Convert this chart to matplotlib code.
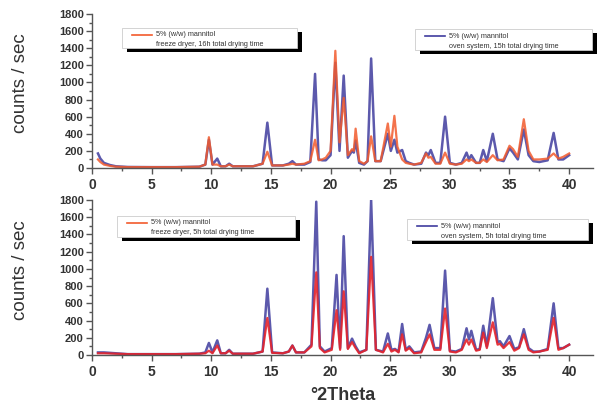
import matplotlib
matplotlib.use("Agg")
import matplotlib.pyplot as plt
from matplotlib.patches import Rectangle
from matplotlib.lines import Line2D

# ---- data (2theta, counts/sec) ----
theta_top = [0.5, 0.7, 1.0, 1.5, 2.0, 3.0, 5.0, 7.0, 9.0, 9.5, 9.8, 10.1, 10.5, 10.8, 11.2,
             11.5, 11.8, 13.5, 14.3, 14.7, 15.1, 16.0, 16.5, 16.8, 17.1, 17.8, 18.3, 18.7,
             19.0, 19.3, 19.6, 20.0, 20.4, 20.75, 21.1, 21.45, 21.8, 21.95, 22.1, 22.4,
             22.8, 23.1, 23.4, 23.75, 24.2, 24.8, 25.05, 25.35, 25.6, 26.0, 26.3, 26.6,
             27.0, 27.6, 28.0, 28.2, 28.4, 28.8, 29.2, 29.6, 30.0, 30.5, 31.0, 31.4, 31.6,
             31.8, 32.2, 32.5, 32.8, 33.1, 33.6, 34.0, 34.5, 35.0, 35.3, 35.7, 36.2, 36.6,
             37.0, 37.5, 38.2, 38.7, 39.1, 39.5, 40.0]
freeze_16h = [100, 70, 40, 25, 15, 10, 10, 10, 15, 40, 360, 40, 40, 20, 20,
              40, 20, 20, 50, 190, 30, 30, 40, 50, 40, 50, 80, 330,
              90, 100, 120, 200, 1370, 300, 820, 150, 220, 200, 460, 80,
              50, 80, 370, 80, 80, 520, 250, 610, 250, 100, 60, 50,
              40, 60, 170, 120, 130, 50, 50, 180, 50, 40, 50, 100, 80,
              100, 60, 60, 100, 70, 150, 90, 100, 260, 220, 130, 570, 200,
              100, 100, 110, 170, 110, 130, 170]
oven_15h = [170, 110, 60, 35, 20, 12, 10, 10, 15, 40, 330, 40, 110, 20, 20,
            50, 20, 20, 50, 530, 30, 30, 50, 80, 40, 40, 70, 1100,
            100, 90, 90, 150, 1230, 200, 1080, 120, 200, 180, 320, 60,
            40, 80, 1280, 80, 80, 400, 200, 330, 180, 210, 80, 60,
            40, 50, 180, 150, 210, 60, 60, 600, 60, 40, 60, 180, 100,
            150, 60, 60, 210, 80, 400, 100, 80, 230, 180, 100, 450, 150,
            80, 70, 90, 410, 100, 100, 150]

theta_bot = [0.5, 1.0, 2.0, 3.0, 5.0, 7.0, 9.0, 9.5, 9.8, 10.1, 10.5, 10.8, 11.2, 11.5,
             11.8, 13.5, 14.3, 14.7, 15.1, 16.0, 16.5, 16.8, 17.1, 17.8, 18.4, 18.8, 19.1,
             19.5, 20.1, 20.5, 20.8, 21.1, 21.45, 21.8, 22.1, 22.4, 23.0, 23.4, 23.8, 24.4,
             24.8, 25.1, 25.4, 25.7, 26.0, 26.3, 26.6, 27.0, 27.6, 28.0, 28.3, 28.7, 29.2,
             29.6, 30.0, 30.5, 31.0, 31.4, 31.6, 31.8, 32.2, 32.5, 32.8, 33.1, 33.6, 34.0,
             34.2, 34.5, 35.0, 35.4, 35.8, 36.2, 36.6, 37.0, 37.5, 38.2, 38.7, 39.1, 39.5,
             40.0]
freeze_5h = [20, 20, 15, 10, 10, 10, 15, 20, 50, 20, 110, 20, 20, 50,
             15, 15, 40, 430, 25, 20, 40, 110, 30, 30, 100, 960, 80,
             30, 60, 520, 60, 740, 70, 150, 80, 20, 60, 1140, 60, 30,
             130, 40, 60, 30, 240, 50, 80, 20, 30, 150, 240, 60, 60,
             540, 40, 30, 60, 180, 120, 180, 50, 60, 260, 80, 380, 120,
             130, 80, 150, 50, 80, 240, 60, 30, 40, 60, 430, 60, 80,
             120]
oven_5h = [30, 30, 20, 10, 10, 10, 15, 30, 140, 30, 170, 20, 20, 60,
           15, 15, 40, 770, 30, 20, 40, 110, 30, 30, 120, 1780, 100,
           40, 80, 930, 80, 1380, 80, 190, 100, 30, 60, 1800, 60, 40,
           250, 60, 70, 40, 360, 60, 100, 30, 40, 200, 350, 80, 80,
           980, 50, 40, 70, 310, 180, 280, 60, 70, 340, 100, 660, 150,
           160, 100, 220, 70, 90, 300, 80, 40, 40, 70, 600, 80, 80,
           120]

assert len(theta_top) == len(freeze_16h) == len(oven_15h)
assert len(theta_bot) == len(freeze_5h) == len(oven_5h)

label_top_red = ["5% (w/w) mannitol", "freeze dryer, 16h total drying time"]
label_top_blue = ["5% (w/w) mannitol", "oven system, 15h total drying time"]
label_bot_red = ["5% (w/w) mannitol", "freeze dryer, 5h total drying time"]
label_bot_blue = ["5% (w/w) mannitol", "oven system, 5h total drying time"]

BLUE = "#3f3c9e"
ORANGE = "#f25a2c"
RED = "#e5232b"
AXC = "#555555"

plt.rcParams["font.family"] = ["Liberation Sans", "DejaVu Sans"]

W, H = 601, 405
fig = plt.figure(figsize=(W / 100, H / 100), dpi=100)


def px_axes(x0, y_top, x1, y_bot):
    return fig.add_axes([x0 / W, 1 - y_bot / H, (x1 - x0) / W, (y_bot - y_top) / H])


def style(ax):
    ax.set_xlim(0, 42)
    ax.set_ylim(0, 1800)
    for s in ["top", "right"]:
        ax.spines[s].set_visible(False)
    for s in ["left", "bottom"]:
        ax.spines[s].set_color(AXC)
        ax.spines[s].set_linewidth(1.0)
    ax.set_xticks(range(0, 41, 5))
    ax.set_xticks([2.5 + 5 * i for i in range(8)], minor=True)
    ax.set_yticks(range(0, 1801, 200))
    ax.set_yticks(range(100, 1800, 200), minor=True)
    ax.tick_params(which="both", direction="out", color=AXC, width=1)
    ax.tick_params(which="major", length=4)
    ax.tick_params(which="minor", length=2.5)
    ax.tick_params(axis="y", labelsize=8, pad=2, labelcolor="#333333")
    ax.tick_params(axis="x", labelsize=10, pad=3, labelcolor="#333333")
    for t in ax.get_xticklabels() + ax.get_yticklabels():
        t.set_fontweight("bold")
    ax.set_ylabel("counts / sec", fontsize=13.5, color="#333333")
    ax.yaxis.set_label_coords(-0.125, 0.55)


def legend_box(x0, y0, x1, y1, color, lines):
    # black drop shadow, then white box (pixel coords)
    fig.add_artist(Rectangle((x0 / W + 5 / W, 1 - (y1 + 4) / H), (x1 - x0) / W, (y1 - y0) / H,
                             transform=fig.transFigure, facecolor="black", edgecolor="none"))
    fig.add_artist(Rectangle((x0 / W, 1 - y1 / H), (x1 - x0) / W, (y1 - y0) / H,
                             transform=fig.transFigure, facecolor="white",
                             edgecolor="#cccccc", linewidth=0.6))
    ly = 1 - (y0 + 7) / H
    fig.add_artist(Line2D([(x0 + 10) / W, (x0 + 30) / W], [ly, ly],
                          transform=fig.transFigure, color=color, lw=1.2))
    fig.text((x0 + 34) / W, ly, lines[0], fontsize=5.2, va="center", color="#333333")
    fig.text((x0 + 34) / W, 1 - (y0 + 17) / H, lines[1], fontsize=5.2, va="center",
             color="#333333")


ax1 = px_axes(92, 14, 593, 168)
style(ax1)
ax1.plot(theta_top, oven_15h, color=BLUE, lw=1.8, alpha=0.85)
ax1.plot(theta_top, freeze_16h, color=ORANGE, lw=1.6, alpha=0.85)

ax2 = px_axes(92, 200, 593, 355)
style(ax2)
ax2.plot(theta_bot, oven_5h, color=BLUE, lw=1.8, alpha=0.85)
ax2.plot(theta_bot, freeze_5h, color=RED, lw=1.6, alpha=0.9)
ax2.set_xlabel("°2Theta", fontsize=13, fontweight="bold", color="#333333", labelpad=6)

legend_box(122, 28, 297, 48, ORANGE, label_top_red)
legend_box(415, 29, 592, 50, BLUE, label_top_blue)
legend_box(117, 216, 295, 237, ORANGE, label_bot_red)
legend_box(407, 219, 588, 240, BLUE, label_bot_blue)

fig.savefig("out.png", dpi=100)
